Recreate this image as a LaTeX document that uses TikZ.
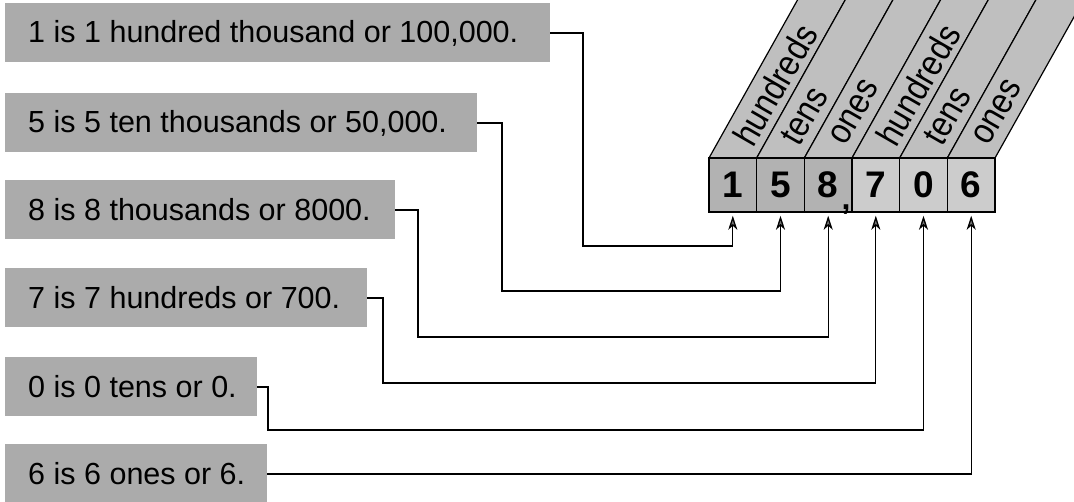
\documentclass[tikz,border=0pt]{standalone}
\usepackage{fontspec}
\setmainfont{Liberation Sans}
\newfontfamily\condfont[FakeStretch=0.88]{Liberation Sans}
\usetikzlibrary{arrows.meta,calc}
\begin{document}
\begin{tikzpicture}[x=1pt,y=-1pt,
  lab/.style={fill=black!33, inner xsep=23pt, inner ysep=0pt, minimum height=59pt, anchor=west, font=\fontsize{30.5}{36}\selectfont},
  dig/.style={draw, line width=1.5pt, fill=black!30, minimum width=47.7pt, minimum height=54pt, inner sep=0pt, font=\fontsize{37}{40}\selectfont\bfseries},
  diglight/.style={dig, fill=black!20},
  stripbox/.style={draw, line width=1.2pt, fill=black!25},
  place/.style={rotate=60, anchor=west, inner sep=0pt, font=\condfont\fontsize{36}{40}\selectfont},
  conn/.style={line width=1.3pt, -{Stealth[length=14pt,width=9pt,inset=4pt,fill=black!55]}, shorten >=3pt},
]
\useasboundingbox (0,0) rectangle (1074,502);
\clip (0,0) rectangle (1074,502);

% slanted strips
\foreach \i/\w in {0/hundreds,1/tens,2/ones,3/hundreds,4/tens,5/ones} {
  \pgfmathsetmacro\xl{709+47.667*\i}
  \pgfmathsetmacro\xr{\xl+47.667}
  \pgfmathsetmacro\xc{\xl+23.83+9}
  \filldraw[stripbox] (\xl,158) -- (\xl+94.1,-10) -- (\xr+94.1,-10) -- (\xr,158) -- cycle;
  \node[place] (P\i) at (\xc,142) {\w};
}

% digit boxes
\node[dig] (D1) at (732.8,185) {1};
\node[dig] (D2) at (780.5,185) {5};
\node[dig] (D3) at (828.2,185) {8};
\node[diglight] (D4) at (875.8,185) {7};
\node[diglight] (D5) at (923.5,185) {0};
\node[diglight] (D6) at (971.2,185) {6};
\node[font=\fontsize{32}{36}\selectfont\bfseries, anchor=base, inner sep=0pt] (comma) at (846,210) {,};

% labels
\node[lab] (L1) at (5,33) {\makebox[499pt][l]{1 is 1 hundred thousand or 100,000.}};
\node[lab] (L2) at (5,123) {\makebox[426pt][l]{5 is 5 ten thousands or 50,000.}};
\node[lab] (L3) at (5,210) {\makebox[344pt][l]{8 is 8 thousands or 8000.}};
\node[lab] (L4) at (5,298) {\makebox[316pt][l]{7 is 7 hundreds or 700.}};
\node[lab] (L5) at (5,387) {\makebox[206pt][l]{0 is 0 tens or 0.}};
\node[lab] (L6) at (5,474) {\makebox[216pt][l]{6 is 6 ones or 6.}};

% connectors
\draw[conn] (L1.east) -| (583,246) -| (D1.south);
\draw[conn] (L2.east) -| (502,291) -| (D2.south);
\draw[conn] (L3.east) -| (418,337) -| (D3.south);
\draw[conn] (L4.east) -| (383,383) -| (D4.south);
\draw[conn] (L5.east) -| (268,430) -| (D5.south);
\draw[conn] (L6.east) -| (D6.south);
\end{tikzpicture}
\end{document}
